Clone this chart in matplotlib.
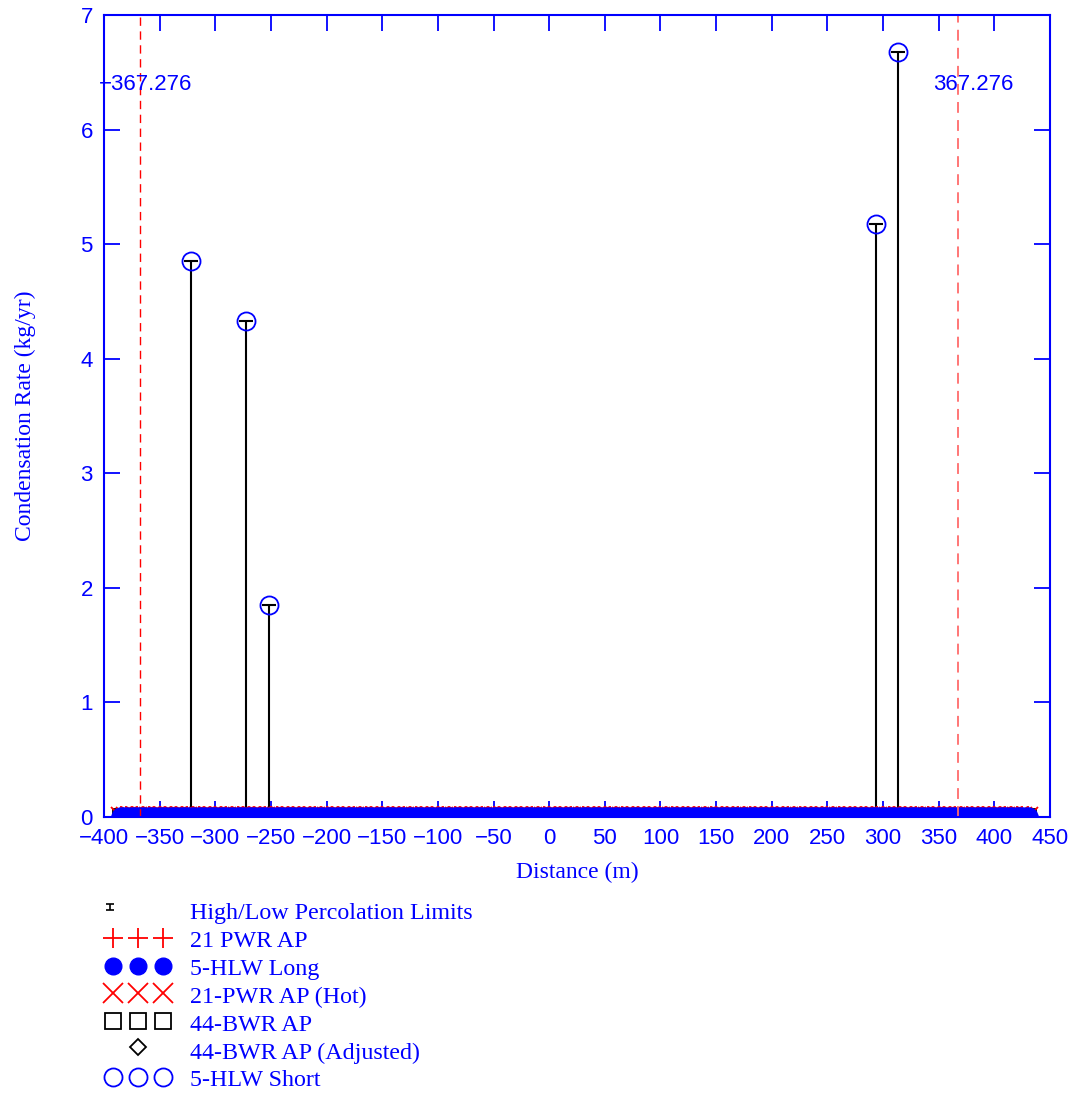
import numpy as np
import matplotlib
matplotlib.use("Agg")
import matplotlib.pyplot as plt

# =================================================================
# 1. DATOS
# =================================================================
# malla de distancias (m) donde se evalúa la condensación
distance = np.arange(-385, 431, 5)
zero_rate = np.zeros(len(distance))      # todas las series valen 0 en la malla

# picos de la serie 5-HLW Short (kg/yr)
peak_x = [-322, -272, -252, 294, 313]
peak_rate = [4.85, 4.33, 1.85, 5.18, 6.68]
peak_low = [0, 0, 0, 0, 0]

# límites marcados con líneas discontinuas
limit_x = [-367.276, 367.276]
limit_text = ["\u2212367.276", "367.276"]
limit_text_x = [-405, 345]
limit_text_y = 6.39

legend_labels = ["High/Low Percolation Limits", "21 PWR AP", "5-HLW Long",
                 "21-PWR AP (Hot)", "44-BWR AP", "44-BWR AP (Adjusted)", "5-HLW Short"]

BLUE = "#0000ff"
SANS = ["Liberation Sans", "DejaVu Sans"]
SERIF = ["Liberation Serif", "DejaVu Serif"]

# =================================================================
# 2. GRÁFICO PRINCIPAL
# =================================================================
fig = plt.figure(figsize=(10.78, 10.95), dpi=100)
ax = fig.add_axes([104 / 1078, 1 - 817 / 1095, 946 / 1078, 802 / 1095])

lo = np.array(peak_rate) - np.array(peak_low)
ax.errorbar(peak_x, peak_rate, yerr=[lo, np.zeros(len(peak_x))], fmt="none",
            ecolor="black", elinewidth=1.5, capsize=5, capthick=1.5, zorder=1)

ax.plot(distance, zero_rate, ls="none", marker="s", ms=12, mfc="none", mec="black", mew=1.3)
ax.plot(distance, zero_rate, ls="none", marker="x", ms=14, color="red", mew=1.3)
ax.plot(distance, zero_rate, ls="none", marker="+", ms=16, color="red", mew=1.3)
ax.plot(distance, zero_rate, ls="none", marker="o", ms=12, color=BLUE)
ax.plot(distance, zero_rate, ls="none", marker="o", ms=13.5, mfc="none", mec=BLUE, mew=1.3)
ax.plot(peak_x, peak_rate, ls="none", marker="o", ms=13, mfc="none", mec=BLUE, mew=1.3, zorder=3)

ax.axvline(limit_x[0], color="red", ls=(0, (6, 4)), lw=1)
ax.axvline(limit_x[1], color="#ff6b6b", ls=(0, (6, 4)), lw=1.3)
for tx, t in zip(limit_text_x, limit_text):
    ax.text(tx, limit_text_y, t, ha="left", va="center", color=BLUE,
            fontsize=16, family=SANS, clip_on=False)

ax.set_xlim(-400, 450)
ax.set_ylim(0, 7)
ax.set_xticks(np.arange(-400, 451, 50))
ax.set_yticks(np.arange(0, 8, 1))
ax.tick_params(direction="in", length=11.5, width=1.3, colors=BLUE,
               top=True, right=True, labelsize=16, labelfontfamily=SANS)
ax.tick_params(axis="x", pad=8)
ax.tick_params(axis="y", pad=8)
for s in ax.spines.values():
    s.set_color(BLUE)
    s.set_linewidth(1.5)

ax.set_xlabel("Distance (m)", color=BLUE, fontsize=17, family=SERIF, labelpad=9)
ax.set_ylabel("Condensation Rate (kg/yr)", color=BLUE, fontsize=17, family=SERIF, labelpad=32)

# =================================================================
# 3. LEYENDA (dibujada a mano, debajo del gráfico)
# =================================================================
lg = fig.add_axes([0, 0, 1, 1])
lg.set_xlim(0, 1078)
lg.set_ylim(1095, 0)
lg.axis("off")

row_y = 914 + 27.8 * np.arange(len(legend_labels))
for yy, lab in zip(row_y, legend_labels):
    lg.text(190, yy, lab, ha="left", va="center", color=BLUE, fontsize=17.3, family=SERIF)

mx = np.array([113, 138, 163])
lg.errorbar([110], [row_y[0] - 7], yerr=[[3], [3]], fmt="none", ecolor="black",
            elinewidth=1.2, capsize=3, capthick=1.2)
lg.plot(mx, row_y[1] - 4 + 0 * mx, ls="none", marker="+", ms=15, color="red", mew=1.3)
lg.plot(mx, row_y[2] - 4 + 0 * mx, ls="none", marker="o", ms=12, color=BLUE)
lg.plot(mx, row_y[3] - 4 + 0 * mx, ls="none", marker="x", ms=14, color="red", mew=1.3)
lg.plot(mx, row_y[4] - 4 + 0 * mx, ls="none", marker="s", ms=11.5, mfc="none", mec="black", mew=1.3)
lg.plot([138], [row_y[5] - 6], ls="none", marker="D", ms=8, mfc="none", mec="black", mew=1.3)
lg.plot(mx, row_y[6] - 4 + 0 * mx, ls="none", marker="o", ms=13, mfc="none", mec=BLUE, mew=1.3)

fig.savefig("out.png", dpi=100)
